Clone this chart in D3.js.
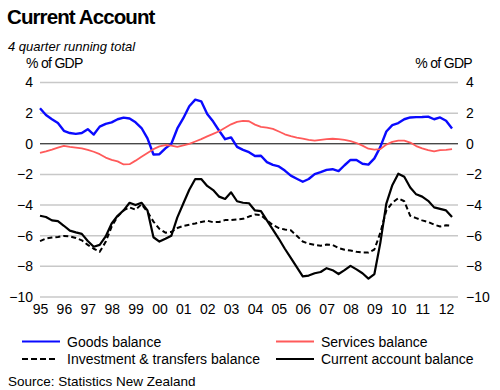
<!DOCTYPE html>
<html>
<head>
<meta charset="utf-8">
<script src="https://cdn.jsdelivr.net/npm/d3@7/dist/d3.min.js"></script>
<style>
  body { margin: 0; background: #fff; }
  svg { display: block; font-family: "Liberation Sans", Arial, sans-serif; }
  .grid line { stroke: #c8c8c8; stroke-width: 1.5; }
  .tick text { font-size: 14px; fill: #000; }
</style>
</head>
<body>
<div id="chart"></div>
<script>
// quarterly, 1995 Q1 .. 2012 Q2, % of GDP (4 quarter running total)
var firstYear = 1995;
var yearTicks = ["95","96","97","98","99","00","01","02","03","04","05","06","07","08","09","10","11","12"];
var yTicks = [4, 2, 0, -2, -4, -6, -8, -10];

var goods = [2.32,1.88,1.6,1.35,0.85,0.7,0.65,0.7,0.95,0.6,1.12,1.3,1.4,1.6,1.71,1.65,
  1.4,1.03,0.35,-0.7,-0.68,-0.3,0.0,1.0,1.67,2.45,2.88,2.77,1.95,1.45,0.85,0.3,
  0.42,-0.2,-0.4,-0.55,-0.8,-0.78,-1.2,-1.38,-1.48,-1.75,-2.08,-2.28,-2.48,-2.3,-1.98,-1.85,
  -1.7,-1.66,-1.78,-1.4,-1.05,-1.06,-1.3,-1.36,-0.95,-0.2,0.8,1.22,1.35,1.6,1.72,1.74,
  1.75,1.77,1.6,1.72,1.5,1.0];
var services = [-0.6,-0.5,-0.38,-0.25,-0.13,-0.2,-0.25,-0.3,-0.4,-0.52,-0.68,-0.9,-1.05,-1.15,-1.35,-1.33,
  -1.1,-0.85,-0.6,-0.35,-0.17,-0.08,-0.12,-0.2,-0.1,0.0,0.15,0.3,0.48,0.65,0.82,1.05,
  1.27,1.43,1.5,1.47,1.25,1.1,1.05,0.97,0.8,0.62,0.5,0.4,0.33,0.25,0.2,0.26,
  0.3,0.33,0.3,0.25,0.18,0.05,-0.12,-0.32,-0.38,-0.35,-0.05,0.12,0.2,0.2,0.08,-0.15,
  -0.3,-0.42,-0.5,-0.42,-0.4,-0.35];
var investment = [-6.35,-6.18,-6.12,-6.08,-6.02,-6.05,-6.15,-6.3,-6.6,-6.85,-7.05,-6.4,-5.4,-4.75,-4.35,-4.15,
  -4.3,-3.95,-4.45,-5.08,-5.55,-5.8,-5.75,-5.5,-5.36,-5.28,-5.2,-5.1,-5.02,-5.12,-5.1,-4.98,
  -4.97,-4.93,-4.9,-4.75,-4.62,-4.65,-5.0,-5.3,-5.5,-5.6,-5.65,-6.0,-6.38,-6.52,-6.6,-6.65,
  -6.58,-6.6,-6.8,-6.92,-6.97,-7.05,-7.1,-7.1,-6.9,-5.8,-4.35,-3.85,-3.55,-3.75,-4.7,-4.85,
  -5.0,-5.1,-5.28,-5.4,-5.32,-5.35];
var current = [-4.7,-4.78,-5.0,-5.05,-5.35,-5.67,-5.78,-5.88,-6.35,-6.72,-6.6,-6.05,-5.2,-4.7,-4.35,-3.85,
  -4.0,-3.85,-4.35,-6.1,-6.38,-6.2,-6.0,-4.8,-3.9,-3.0,-2.3,-2.3,-2.75,-3.02,-3.45,-3.6,
  -3.17,-3.75,-3.85,-3.88,-4.35,-4.4,-5.0,-5.6,-6.2,-6.85,-7.45,-8.05,-8.65,-8.6,-8.45,-8.37,
  -8.12,-8.25,-8.5,-8.25,-7.97,-8.2,-8.45,-8.8,-8.5,-6.45,-3.9,-2.7,-1.95,-2.15,-2.85,-3.3,
  -3.45,-3.72,-4.15,-4.25,-4.35,-4.78];

var series = [
  { name: "Goods balance", values: goods, color: "#0a0aff", width: 2.4, dash: null },
  { name: "Services balance", values: services, color: "#ff5a5a", width: 1.8, dash: null },
  { name: "Investment & transfers balance", values: investment, color: "#000", width: 2, dash: "5,3" },
  { name: "Current account balance", values: current, color: "#000", width: 2.2, dash: null }
];

var width = 500, height = 390;
var svg = d3.select("#chart").append("svg").attr("width", width).attr("height", height);

var x = d3.scaleLinear().domain([firstYear, 2012.5]).range([40, 458]);
var y = d3.scaleLinear().domain([-10, 4]).range([297, 82.5]);

// gridlines
svg.append("g")
  .attr("class", "grid")
  .selectAll("line")
  .data(yTicks.filter(function (d) { return d !== 0; }))
  .enter()
  .append("line")
  .attr("x1", x.range()[0])
  .attr("x2", x.range()[1])
  .attr("y1", function (d) { return y(d); })
  .attr("y2", function (d) { return y(d); });

svg.append("line")
  .attr("x1", x.range()[0]).attr("x2", x.range()[1])
  .attr("y1", y(0)).attr("y2", y(0))
  .attr("stroke", "#000").attr("stroke-width", 1);

// axes (labels only)
var left = svg.append("g").attr("transform", "translate(" + (x.range()[0] - 7) + ",0)")
  .call(d3.axisLeft(y).tickValues(yTicks).tickSize(0).tickPadding(0).tickFormat(d3.format("d")));
var right = svg.append("g").attr("transform", "translate(" + (x.range()[1] + 8) + ",0)")
  .call(d3.axisRight(y).tickValues(yTicks).tickSize(0).tickPadding(0).tickFormat(d3.format("d")));
var years = d3.range(firstYear, firstYear + yearTicks.length);
var bottom = svg.append("g").attr("transform", "translate(0," + (y(-10) + 4) + ")")
  .call(d3.axisBottom(x).tickValues(years).tickSize(0).tickPadding(0)
    .tickFormat(function (d, i) { return yearTicks[i]; }));
[left, right, bottom].forEach(function (g) {
  g.select(".domain").remove();
  g.selectAll("text").attr("font-family", null).attr("font-size", null);
});
bottom.selectAll("text").attr("dy", "0.95em");

// lines
var line = d3.line()
  .x(function (d, i) { return x(firstYear + i / 4); })
  .y(function (d) { return y(d); });

svg.append("g").selectAll("path")
  .data(series)
  .enter()
  .append("path")
  .attr("fill", "none")
  .attr("stroke", function (d) { return d.color; })
  .attr("stroke-width", function (d) { return d.width; })
  .attr("stroke-dasharray", function (d) { return d.dash; })
  .attr("stroke-linejoin", "round")
  .attr("d", function (d) { return line(d.values); });

// titles
svg.append("text").attr("x", 7).attr("y", 24)
  .attr("font-size", 20.5).attr("font-weight", "bold").attr("letter-spacing", -0.9)
  .text("Current Account");
svg.append("text").attr("x", 8).attr("y", 51)
  .attr("font-size", 13).attr("font-style", "italic")
  .text("4 quarter running total");
svg.append("text").attr("x", 26).attr("y", 68)
  .attr("font-size", 14).attr("letter-spacing", -0.7)
  .text("% of GDP");
svg.append("text").attr("x", 472).attr("y", 68)
  .attr("font-size", 14).attr("letter-spacing", -0.7).attr("text-anchor", "end")
  .text("% of GDP");

// legend
var legendPos = [[22, 341.5], [276, 341.5], [22, 359], [276, 359]];
var order = [0, 1, 2, 3];
var leg = svg.append("g").selectAll("g")
  .data(order)
  .enter()
  .append("g")
  .attr("transform", function (d, i) { return "translate(" + legendPos[i][0] + "," + legendPos[i][1] + ")"; });
leg.append("line")
  .attr("x1", 0).attr("x2", function (d) { return series[d].dash ? 34 : 38; })
  .attr("stroke", function (d) { return series[d].color; })
  .attr("stroke-width", 2)
  .attr("stroke-dasharray", function (d) { return series[d].dash ? "6,3" : null; });
leg.append("text")
  .attr("x", 45).attr("y", 5)
  .attr("font-size", 14)
  .text(function (d) { return series[d].name; });

svg.append("text").attr("x", 8).attr("y", 386)
  .attr("font-size", 13.5)
  .text("Source: Statistics New Zealand");
</script>
</body>
</html>
